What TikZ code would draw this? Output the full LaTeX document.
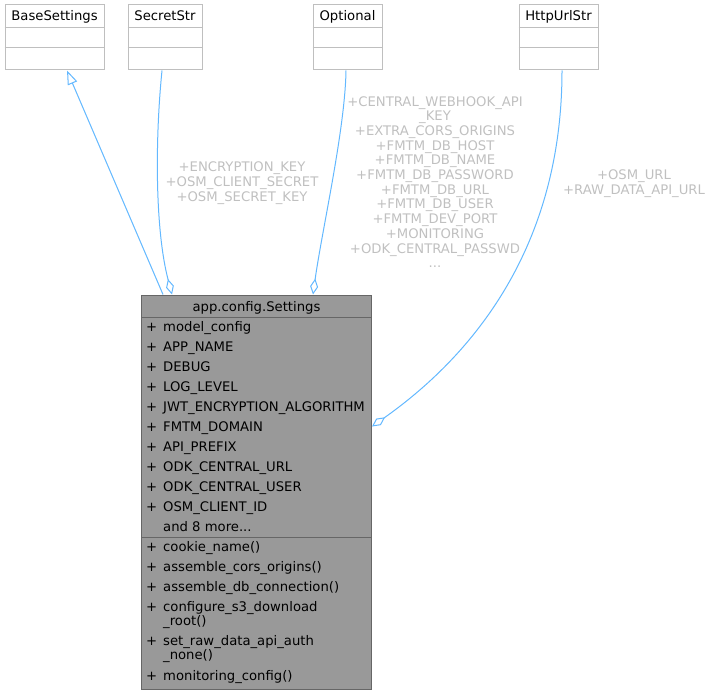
\documentclass[tikz,border=0pt]{standalone}
\usepackage{fontspec}
\setmainfont{DejaVu Sans}
\usetikzlibrary{arrows.meta,calc}
\definecolor{umledge}{HTML}{63B8FF}
\definecolor{umlfill}{HTML}{999999}
\definecolor{umldark}{HTML}{666666}
\definecolor{umllight}{HTML}{BFBFBF}
\definecolor{umllabel}{HTML}{C0C0C0}

\begin{document}
\begin{tikzpicture}[x=1pt, y=-1pt,
    font=\fontsize{13.2}{14.7}\selectfont,
    emptybox/.style={rectangle, draw=umllight, fill=white, line width=1pt, minimum height=65pt, inner sep=0pt},
    classbox/.style={rectangle, draw=umldark, fill=umlfill, line width=1pt, inner sep=0pt},
    divline/.style={line width=1pt},
    member/.style={anchor=base west, inner sep=0pt},
    boxtitle/.style={anchor=base, inner sep=0pt},
    lbl/.style={text=umllabel, align=center, inner sep=0pt},
    link/.style={draw=umledge, line width=1pt},
    inh/.style={link, -{Triangle[open, fill=white, length=14pt, width=10pt]}},
    agg/.style={link, -{Diamond[open, fill=white, length=16pt, width=8pt]}}
]
    \useasboundingbox (0,0) rectangle (711,695);

    % Parent classes
    \node (base) [emptybox, minimum width=99pt] at (54.5,37.5) {};
    \node (secret) [emptybox, minimum width=74pt] at (165,37.5) {};
    \node (optional) [emptybox, minimum width=69pt] at (347.5,37.5) {};
    \node (httpurl) [emptybox, minimum width=79pt] at (558.5,37.5) {};
    \foreach \nm/\ttl in {base/BaseSettings, secret/SecretStr, optional/Optional, httpurl/HttpUrlStr} {
        \node (\nm title) [boxtitle] at ($(\nm.north)+(0,16)$) {\ttl};
        \draw [divline, umllight] ($(\nm.north west)+(0,23)$) -- ($(\nm.north east)+(0,23)$);
        \draw [divline, umllight] ($(\nm.north west)+(0,43)$) -- ($(\nm.north east)+(0,43)$);
    }

    % Settings class
    \node (settings) [classbox, minimum width=230pt, minimum height=394pt, anchor=north west] at (141,294.5) {};
    \node (settingstitle) [boxtitle] at ($(settings.north)+(0,16.5)$) {app.config.Settings};
    \draw [divline, umldark] ($(settings.north west)+(0,22.5)$) -- ($(settings.north east)+(0,22.5)$);
    \draw [divline, umldark] ($(settings.north west)+(0,242.5)$) -- ($(settings.north east)+(0,242.5)$);

    \foreach \txt [count=\i from 0] in {model\_config, APP\_NAME, DEBUG, LOG\_LEVEL, JWT\_ENCRYPTION\_ALGORITHM, FMTM\_DOMAIN, API\_PREFIX, ODK\_CENTRAL\_URL, ODK\_CENTRAL\_USER, OSM\_CLIENT\_ID} {
        \node (plus\i) [member] at (146, 331+20*\i) {+};
        \node (attr\i) [member] at (163, 331+20*\i) {\txt};
    }
    \node (attrmore) [member] at (163, 531) {and 8 more...};

    \foreach \y/\sg/\txt [count=\j] in {551/+/cookie\_name(), 571/+/assemble\_cors\_origins(), 591/+/assemble\_db\_connection(), 611/+/configure\_s3\_download, 625/{}/\_root(), 645/+/set\_raw\_data\_api\_auth, 659/{}/\_none(), 680/+/monitoring\_config()} {
        \node (sign\j) [member] at (146, \y) {\sg};
        \node (meth\j) [member] at (163, \y) {\txt};
    }

    % Relations
    \draw [inh] ($(settings.north west)+(22,0)$) -- ($(base.south)+(12.5,0)$);
    \draw [agg] ($(secret.south)+(-3,0)$) .. controls (155,140) and (155,230) .. ($(settings.north west)+(31,0)$);
    \draw [agg] ($(optional.south)+(-1.5,0)$) .. controls (345,130) and (322,230) .. ($(settings.north west)+(172,0)$);
    \draw [agg] ($(httpurl.south)+(3.5,0)$) .. controls (562,240) and (480,350) .. ($(settings.east)+(0,-65.5)$);

    % Relation labels
    \node (lblsecret) [lbl] at (242,183) {+ENCRYPTION\_KEY\\+OSM\_CLIENT\_SECRET\\+OSM\_SECRET\_KEY};
    \node (lbloptional) [lbl] at (435,182) {+CENTRAL\_WEBHOOK\_API\\\_KEY\\+EXTRA\_CORS\_ORIGINS\\+FMTM\_DB\_HOST\\+FMTM\_DB\_NAME\\+FMTM\_DB\_PASSWORD\\+FMTM\_DB\_URL\\+FMTM\_DB\_USER\\+FMTM\_DEV\_PORT\\+MONITORING\\+ODK\_CENTRAL\_PASSWD\\...};
    \node (lblhttpurl) [lbl] at (634,184) {+OSM\_URL\\+RAW\_DATA\_API\_URL};
\end{tikzpicture}
\end{document}
